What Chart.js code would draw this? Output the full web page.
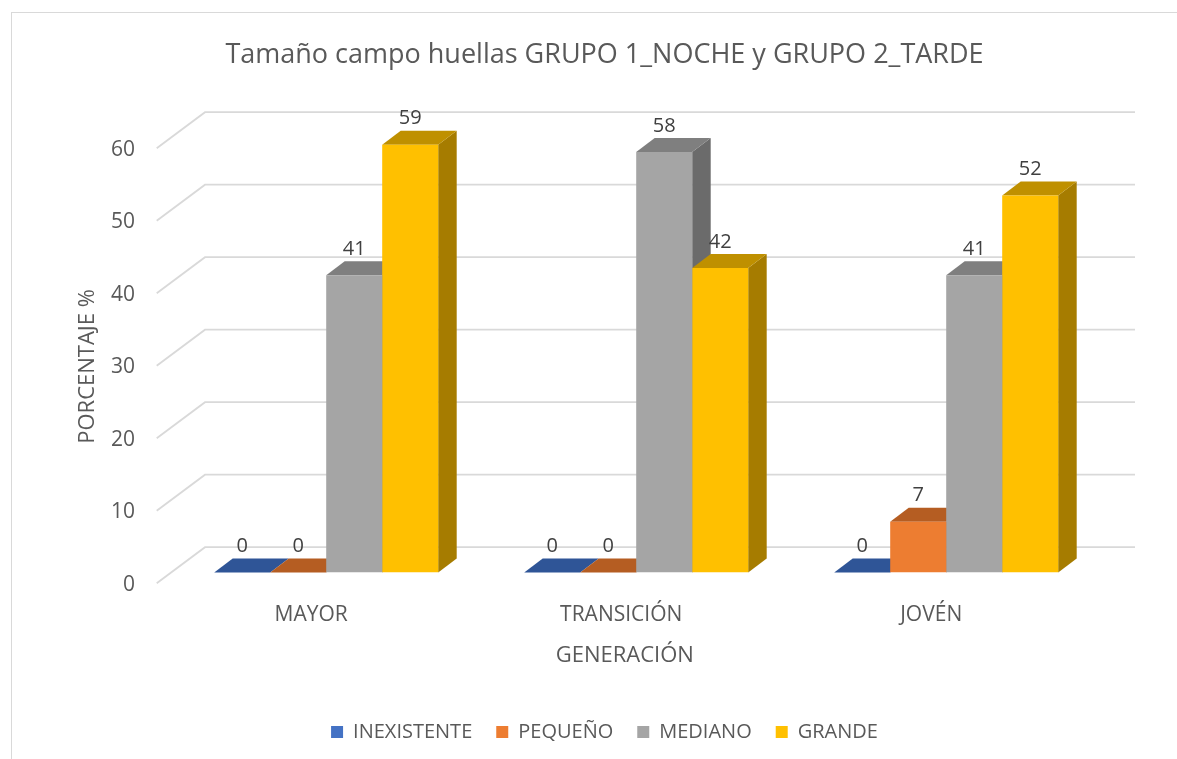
<!DOCTYPE html>
<html>
<head>
<meta charset="utf-8">
<script src="https://cdn.jsdelivr.net/npm/chart.js@4.4.1/dist/chart.umd.min.js"></script>
<style>
  html, body { margin: 0; padding: 0; background: #fff; }
  #wrap { position: relative; width: 1177px; height: 759px; }
</style>
</head>
<body>
<div id="wrap"><canvas id="chart"></canvas></div>
<script>
const categories = ['MAYOR', 'TRANSICIÓN', 'JOVÉN'];
const inexistente = [0, 0, 0];
const pequeno = [0, 0, 7];
const mediano = [41, 58, 41];
const grande = [59, 42, 52];
const yTicks = [0, 10, 20, 30, 40, 50, 60];

const seriesNames = ['INEXISTENTE', 'PEQUEÑO', 'MEDIANO', 'GRANDE'];
const frontColors = ['#4472C4', '#ED7D31', '#A5A5A5', '#FFC000'];
const topColors = ['#2F5597', '#B55D22', '#7F7F7F', '#BF9000'];
const sideColors = ['#2A4C85', '#A0521E', '#6B6B6B', '#A67C00'];

// fake 3d: offsets in pixels from the plane the bars stand on
const BAR_DEPTH = { dx: 18.5, dy: -14 };
const BACK = { dx: 33.8, dy: -25.3 };
const FRONT = { dx: -14.5, dy: 10.8 };

const pseudo3d = {
  id: 'pseudo3d',
  beforeDraw(chart) {
    const ctx = chart.ctx;
    ctx.save();
    ctx.fillStyle = '#fff';
    ctx.fillRect(0, 0, chart.width, chart.height);
    ctx.strokeStyle = '#D9D9D9';
    ctx.lineWidth = 1;
    ctx.strokeRect(11.5, 12.5, chart.width + 20, chart.height + 20);
    ctx.restore();
  },
  beforeDatasetsDraw(chart) {
    const { ctx, chartArea: a } = chart;
    const y = chart.scales.y;
    ctx.save();
    // back wall + side wall grid
    ctx.strokeStyle = '#D9D9D9';
    ctx.lineWidth = 1.8;
    y.ticks.forEach(t => {
      const py = y.getPixelForValue(t.value);
      ctx.beginPath();
      ctx.moveTo(a.left + FRONT.dx, py + FRONT.dy);
      ctx.lineTo(a.left + BACK.dx, py + BACK.dy);
      ctx.lineTo(a.right + BACK.dx, py + BACK.dy);
      ctx.stroke();
    });
    // side and top faces, left to right
    const bars = [];
    chart.data.datasets.forEach((ds, di) => {
      chart.getDatasetMeta(di).data.forEach(el => bars.push({ el, di }));
    });
    bars.sort((p, q) => p.el.x - q.el.x);
    const { dx, dy } = BAR_DEPTH;
    bars.forEach(({ el, di }) => {
      const { x, y: top, base, width } = el.getProps(['x', 'y', 'base', 'width'], true);
      const l = x - width / 2, r = x + width / 2;
      ctx.fillStyle = sideColors[di];
      ctx.beginPath();
      ctx.moveTo(r, top);
      ctx.lineTo(r + dx, top + dy);
      ctx.lineTo(r + dx, base + dy);
      ctx.lineTo(r, base);
      ctx.closePath();
      ctx.fill();
      ctx.fillStyle = topColors[di];
      ctx.beginPath();
      ctx.moveTo(l, top);
      ctx.lineTo(r, top);
      ctx.lineTo(r + dx, top + dy);
      ctx.lineTo(l + dx, top + dy);
      ctx.closePath();
      ctx.fill();
    });
    ctx.restore();
  },
  afterDatasetsDraw(chart) {
    const ctx = chart.ctx;
    ctx.save();
    ctx.font = '20px "Open Sans"';
    ctx.fillStyle = '#404040';
    ctx.textAlign = 'center';
    ctx.textBaseline = 'middle';
    chart.data.datasets.forEach((ds, di) => {
      chart.getDatasetMeta(di).data.forEach((el, i) => {
        const { x, y } = el.getProps(['x', 'y'], true);
        ctx.fillText(ds.data[i], x, y + BAR_DEPTH.dy - 12);
      });
    });
    ctx.restore();
  }
};

Chart.defaults.font.family = '"Open Sans", sans-serif';
Chart.defaults.color = '#595959';

const seriesData = [inexistente, pequeno, mediano, grande];

new Chart(document.getElementById('chart'), {
  type: 'bar',
  data: {
    labels: categories,
    datasets: seriesNames.map((name, i) => ({
      label: name,
      data: seriesData[i],
      backgroundColor: frontColors[i],
      borderWidth: 0,
      categoryPercentage: 0.7226,
      barPercentage: 1.0
    }))
  },
  options: {
    responsive: true,
    maintainAspectRatio: false,
    animation: false,
    layout: {
      padding: { left: 40, right: 8, top: 0, bottom: 7 }
    },
    plugins: {
      title: {
        display: true,
        text: 'Tamaño campo huellas GRUPO 1_NOCHE y GRUPO 2_TARDE',
        font: { size: 27, weight: 'normal' },
        color: '#595959',
        padding: { top: 38.8, bottom: 66.3 }
      },
      legend: {
        position: 'bottom',
        labels: {
          boxWidth: 12,
          boxHeight: 12,
          padding: 24,
          font: { size: 20 },
          color: '#595959'
        }
      },
      tooltip: { enabled: false }
    },
    scales: {
      x: {
        grid: { display: false, drawTicks: false },
        border: { display: false },
        ticks: {
          font: { size: 21 },
          padding: 30,
          labelOffset: -15
        },
        title: {
          display: true,
          text: 'GENERACIÓN    ',
          font: { size: 22 },
          padding: { top: 15, bottom: 29 }
        },
        afterFit: s => { s.height = 125.5; }
      },
      y: {
        min: 0,
        max: 60,
        afterBuildTicks: s => { s.ticks = yTicks.map(v => ({ value: v })); },
        grid: { display: false, drawTicks: false },
        border: { display: false },
        ticks: {
          font: { size: 21 },
          padding: 36.2,
          labelOffset: 12.5
        },
        title: {
          display: true,
          text: 'PORCENTAJE %    ',
          font: { size: 22 },
          padding: { top: 34.8 }
        },
        afterFit: s => { s.width = 131.2; }
      },
      spacer: {
        type: 'linear',
        position: 'right',
        grid: { display: false, drawTicks: false },
        border: { display: false },
        ticks: { display: false },
        afterFit: s => { s.width = 67.8; }
      }
    }
  },
  plugins: [pseudo3d]
});
</script>
</body>
</html>
